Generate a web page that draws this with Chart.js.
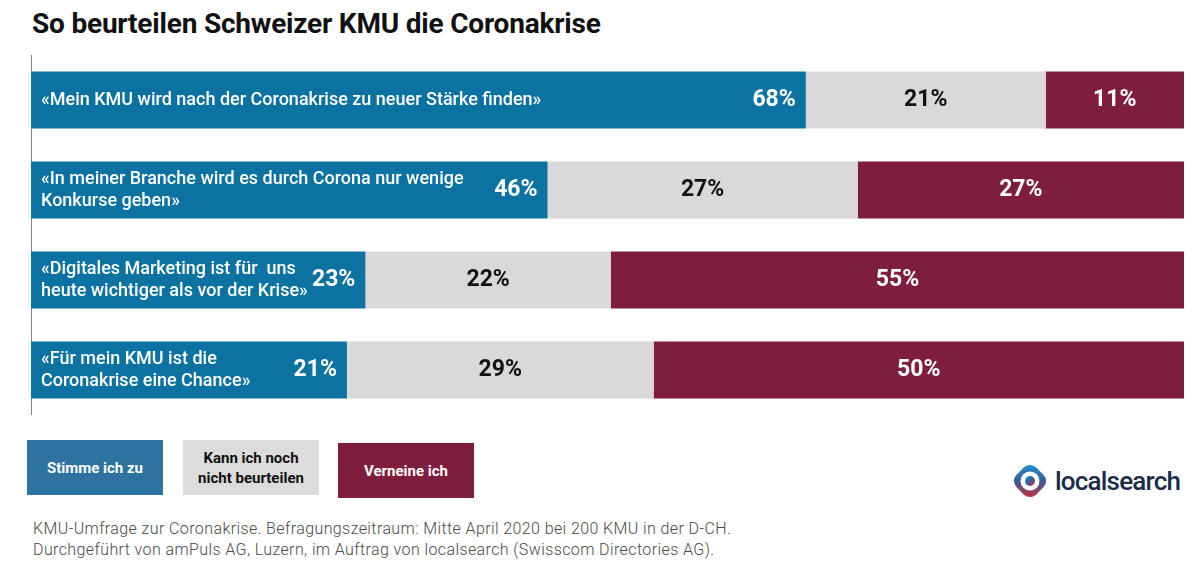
<!DOCTYPE html>
<html>
<head>
<meta charset="utf-8">
<script src="https://cdn.jsdelivr.net/npm/chart.js@4.4.1/dist/chart.umd.min.js"></script>
<style>
  body { margin:0; background:#fff; font-family:Roboto, "Noto Sans", sans-serif; }
  #page { position:relative; width:1200px; height:573px; overflow:hidden; }
  #title { position:absolute; left:32px; top:7px; font-size:28px; font-weight:700; color:#111; letter-spacing:-0.2px; }
  #chart-wrap { position:absolute; left:31px; top:55px; width:1153px; height:360px; }
  #legend .box { position:absolute; width:136px; height:55px; display:flex; align-items:center; justify-content:center;
    text-align:center; font-size:15px; font-weight:700; line-height:20px; }
  #footer { position:absolute; left:33px; top:518px; font-size:16px; font-weight:300; color:#4a4a4a; line-height:21px; letter-spacing:0.4px; }
  #logo { position:absolute; left:1008px; top:459px; height:44px; display:flex; align-items:center; }
  #logo span { font-size:26px; font-weight:500; color:#1d2b4a; margin-left:3px; letter-spacing:-0.8px; }
</style>
</head>
<body>
<div id="page">
  <div id="title">So beurteilen Schweizer KMU die Coronakrise</div>
  <div id="chart-wrap"><canvas id="kmu-chart"></canvas></div>
  <div id="legend"></div>
  <div id="footer">KMU-Umfrage zur Coronakrise. Befragungszeitraum: Mitte April 2020 bei 200 KMU in der D-CH.<br>Durchgeführt von amPuls AG, Luzern, im Auftrag von localsearch (Swisscom Directories AG).</div>
  <div id="logo">
    <svg width="44" height="44" viewBox="0 0 44 44">
      <defs>
        <linearGradient id="lg" x1="0" y1="0" x2="1" y2="1">
          <stop offset="0" stop-color="#1e9ad6"/>
          <stop offset="0.5" stop-color="#3a5c9a"/>
          <stop offset="1" stop-color="#e2262b"/>
        </linearGradient>
      </defs>
      <rect x="8" y="8" width="28" height="28" rx="9" transform="rotate(45 22 22)" fill="url(#lg)"/>
      <circle cx="22" cy="22" r="9.5" fill="#fff"/>
      <circle cx="22" cy="22" r="5" fill="url(#lg)"/>
    </svg>
    <span>localsearch</span>
  </div>
</div>
<script>
  "use strict";

  // statements (shown inside the blue bars)
  var statements = [
    ["«Mein KMU wird nach der Coronakrise zu neuer Stärke finden»"],
    ["«In meiner Branche wird es durch Corona nur wenige", "Konkurse geben»"],
    ["«Digitales Marketing ist für  uns", "heute wichtiger als vor der Krise»"],
    ["«Für mein KMU ist die", "Coronakrise eine Chance»"]
  ];

  var seriesNames = ["Stimme ich zu", "Kann ich noch\nnicht beurteilen", "Verneine ich"];
  var seriesColors = ["#0b72a2", "#d9d9d9", "#7e1e3c"];
  var legendColors = ["#2e72a0", "#dcdcdc", "#7e1e3c"];
  var labelColors = ["#ffffff", "#111111", "#ffffff"];

  // printed percentages
  var pctAgree = [68, 46, 23, 21];
  var pctUnsure = [21, 27, 22, 29];
  var pctNo = [11, 27, 55, 50];

  // segment lengths as drawn in the picture (share of full bar)
  var barAgree = [67.2, 44.8, 29.0, 27.4];
  var barUnsure = [20.8, 26.9, 21.3, 26.6];
  var barNo = [12.0, 28.3, 49.7, 46.0];

  var pctLabels = [pctAgree, pctUnsure, pctNo];
  var barValues = [barAgree, barUnsure, barNo];

  // legend boxes
  var legendPos = [[27, 440], [183, 440], [338, 443]];
  var legend = document.getElementById("legend");
  seriesNames.forEach(function (name, i) {
    var d = document.createElement("div");
    d.className = "box";
    d.style.left = legendPos[i][0] + "px";
    d.style.top = legendPos[i][1] + "px";
    d.style.background = legendColors[i];
    d.style.color = labelColors[i];
    d.innerHTML = name.replace("\n", "<br>");
    legend.appendChild(d);
  });

  var barText = {
    id: "barText",
    afterDatasetsDraw: function (chart) {
      var ctx = chart.ctx;
      ctx.save();
      ctx.textBaseline = "middle";
      chart.data.datasets.forEach(function (ds, di) {
        var meta = chart.getDatasetMeta(di);
        meta.data.forEach(function (bar, i) {
          ctx.fillStyle = labelColors[di];
          ctx.font = "700 23px Roboto";
          var txt = pctLabels[di][i] + "%";
          if (di === 0) {
            ctx.textAlign = "right";
            ctx.fillText(txt, bar.x - 10, bar.y);
            // statement text
            ctx.textAlign = "left";
            ctx.font = "500 18px Roboto";
            var lines = statements[i];
            var lh = 22;
            var y0 = bar.y - (lines.length - 1) * lh / 2;
            lines.forEach(function (ln, k) {
              ctx.fillText(ln, chart.chartArea.left + 10, y0 + k * lh);
            });
          } else {
            ctx.textAlign = "center";
            ctx.fillText(txt, (bar.x + bar.base) / 2, bar.y);
          }
        });
      });
      ctx.restore();
    }
  };

  new Chart(document.getElementById("kmu-chart"), {
    type: "bar",
    data: {
      labels: statements.map(function (s) { return s.join(" "); }),
      datasets: barValues.map(function (vals, i) {
        return {
          label: seriesNames[i],
          data: vals,
          backgroundColor: seriesColors[i],
          borderWidth: 0,
          barPercentage: 0.635,
          categoryPercentage: 1
        };
      })
    },
    options: {
      indexAxis: "y",
      responsive: true,
      maintainAspectRatio: false,
      animation: false,
      layout: { padding: 0 },
      plugins: {
        legend: { display: false },
        title: { display: false },
        tooltip: { enabled: false }
      },
      scales: {
        x: { stacked: true, min: 0, max: 100, display: false },
        y: {
          stacked: true,
          ticks: { display: false },
          grid: { display: false, drawTicks: false },
          border: { display: true, color: "#111", width: 1.5 }
        }
      }
    },
    plugins: [barText]
  });
</script>
</body>
</html>
